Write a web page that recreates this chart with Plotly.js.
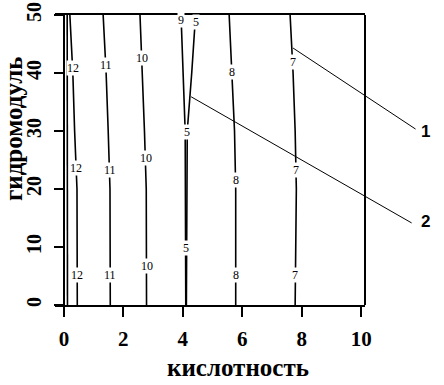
<!DOCTYPE html>
<html>
<head>
<meta charset="utf-8">
<script src="https://cdn.plot.ly/plotly-3.0.1.min.js"></script>
<style>html,body{margin:0;padding:0;background:#fff;}#chart{width:444px;height:385px;}</style>
</head>
<body>
<div id="chart"></div>
<script>
// Contour lines: x position (кислотность) at each гидромодуль level
const levelY = [0, 10, 20, 30, 40, 50];
const contourNoLabel = [0.12, 0.12, 0.12, 0.11, 0.11, 0.11];
const contour12 = [0.45, 0.45, 0.44, 0.36, 0.30, 0.20];
const contour11 = [1.56, 1.56, 1.55, 1.49, 1.42, 1.32];
const contour10 = [2.78, 2.78, 2.77, 2.71, 2.64, 2.56];
const contour9  = [4.10, 4.10, 4.10, 4.08, 4.01, 3.94];
const contour5  = [4.12, 4.13, 4.14, 4.15, 4.30, 4.43];
const contour8  = [5.78, 5.78, 5.78, 5.74, 5.66, 5.56];
const contour7  = [7.78, 7.80, 7.82, 7.78, 7.71, 7.61];

// Inline contour labels
const labelText = ['12','12','12','11','11','11','10','10','10','9','5','5','5','8','8','8','7','7','7'];
const labelX = [0.31, 0.40, 0.45, 1.42, 1.55, 1.56, 2.64, 2.75, 2.78, 3.94, 4.43, 4.13, 4.11, 5.66, 5.78, 5.78, 7.71, 7.81, 7.79];
const labelY = [40.9, 23.6, 5.2, 41.4, 23.3, 5.2, 42.6, 25.3, 6.7, 49.1, 48.8, 29.8, 9.8, 40.2, 21.6, 5.2, 41.9, 23.3, 5.2];

// Callout pointers (tip on contour) and their numbers
const pointerNames = ['1', '2'];
const pointerTipX = [7.71, 4.28];
const pointerTipY = [44.3, 35.9];

// Axis ticks
const xTicks = [0, 2, 4, 6, 8, 10];
const yTicks = [0, 10, 20, 30, 40, 50];
const xTitle = 'кислотность';
const yTitle = 'гидромодуль';

const contours = [contourNoLabel, contour12, contour11, contour10, contour9, contour5, contour8, contour7];
const traces = contours.map(xs => ({
  type: 'scatter', mode: 'lines', x: xs, y: levelY,
  line: {color: '#000', width: 1.6}, hoverinfo: 'skip', showlegend: false
}));

const serifBold = {family: '"Liberation Serif", "Times New Roman", serif', color: '#000', weight: 700};
const xRange = [-0.3, 10.13];

const annotations = labelText.map((t, i) => ({
  x: labelX[i], y: labelY[i], xref: 'x', yref: 'y', text: t, showarrow: false,
  font: {family: '"Liberation Serif", serif', size: 12, color: '#000'},
  bgcolor: '#fff', borderpad: 0
}));

const pointerOffsets = [[124, 82], [222, 127]];
pointerNames.forEach((n, i) => {
  annotations.push({
    x: pointerTipX[i], y: pointerTipY[i], xref: 'x', yref: 'y', text: '',
    showarrow: true, arrowhead: 0, arrowwidth: 1, arrowcolor: '#000',
    ax: pointerOffsets[i][0], ay: pointerOffsets[i][1], standoff: 0, startstandoff: 0
  });
});
annotations.push({x: 1.216, y: 0.597, xref: 'paper', yref: 'paper', text: pointerNames[0], showarrow: false,
  font: {family: '"Liberation Sans", Arial, sans-serif', size: 17, color: '#000', weight: 700}});
annotations.push({x: 1.216, y: 0.248, xref: 'paper', yref: 'paper', text: pointerNames[1], showarrow: false,
  font: {family: '"Liberation Sans", Arial, sans-serif', size: 17, color: '#000', weight: 700}});

annotations.push({x: 0.59, y: -0.214, xref: 'paper', yref: 'paper', text: xTitle, showarrow: false,
  xanchor: 'center', yanchor: 'middle', font: Object.assign({size: 25}, serifBold)});
annotations.push({x: -0.132, y: 0.607, xref: 'paper', yref: 'paper', text: yTitle, showarrow: false,
  textangle: -90, xanchor: 'center', yanchor: 'middle', font: Object.assign({size: 25}, serifBold)});

const layout = {
  width: 444, height: 385,
  margin: {l: 55, r: 79, t: 15, b: 80},
  paper_bgcolor: '#fff', plot_bgcolor: '#fff',
  showlegend: false,
  xaxis: {
    range: xRange, showgrid: false, zeroline: false,
    showline: true, mirror: true, linecolor: '#000', linewidth: 2,
    ticks: 'outside', ticklen: 10, tickwidth: 2, tickcolor: '#000',
    tickvals: xTicks, ticktext: xTicks.map(String), ticklabelstandoff: 4,
    tickfont: Object.assign({size: 21}, serifBold)
  },
  yaxis: {
    range: [0, 50], anchor: 'free', position: (0 - xRange[0]) / (xRange[1] - xRange[0]),
    showgrid: false, zeroline: false,
    showline: true, linecolor: '#000', linewidth: 2,
    ticks: 'outside', ticklen: 9, tickwidth: 2, tickcolor: '#000',
    tickvals: yTicks, ticktext: yTicks.map(String), tickangle: -90, ticklabelstandoff: 5,
    tickfont: Object.assign({size: 20}, serifBold)
  },
  shapes: [{type: 'line', xref: 'paper', yref: 'paper', x0: 1, x1: 1, y0: 0, y1: 1,
    line: {color: '#000', width: 2}}],
  annotations: annotations
};

Plotly.newPlot('chart', traces, layout, {staticPlot: true, displayModeBar: false});
</script>
</body>
</html>
